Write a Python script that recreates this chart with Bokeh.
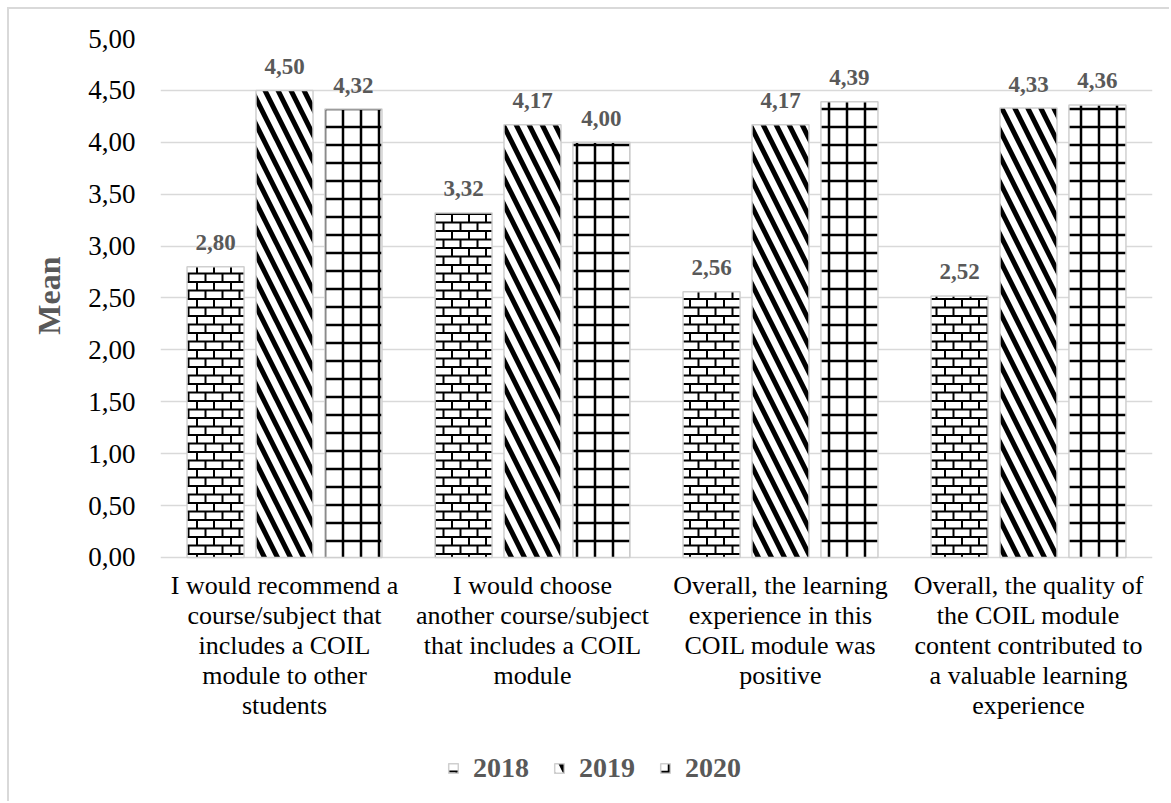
from bokeh.plotting import figure
from bokeh.models import (ColumnDataSource, FixedTicker, Legend, LegendItem, Range1d,
                          CanvasTexture, Title)
from bokeh.embed import file_html
from bokeh.resources import INLINE
from bokeh.core.properties import value

categories = [
    "I would recommend a\ncourse/subject that\nincludes a COIL\nmodule to other\nstudents",
    "I would choose\nanother course/subject\nthat includes a COIL\nmodule",
    "Overall, the learning\nexperience in this\nCOIL module was\npositive",
    "Overall, the quality of\nthe COIL module\ncontent contributed to\na valuable learning\nexperience",
]
years = ["2018", "2019", "2020"]
v2018 = [2.80, 3.32, 2.56, 2.52]
v2019 = [4.50, 4.17, 4.17, 4.33]
v2020 = [4.32, 4.00, 4.39, 4.36]
yticks = [0, 0.5, 1, 1.5, 2, 2.5, 3, 3.5, 4, 4.5, 5]

series = [v2018, v2019, v2020]
offsets = [-0.278, 0.0, 0.278]
bar_w = 0.23
FONT = "Liberation Serif"
GRAY = "#595959"

BRICK_CODE = """
const c = ctx.canvas;
c.width = 17; c.height = 17;
ctx.clearRect(0, 0, 17, 17);
ctx.strokeStyle = "#000000";
ctx.lineWidth = 2;
ctx.beginPath();
ctx.moveTo(0, 1); ctx.lineTo(17, 1);
ctx.moveTo(0, 9.5); ctx.lineTo(17, 9.5);
ctx.moveTo(1, 0); ctx.lineTo(1, 9.5);
ctx.moveTo(9.5, 9.5); ctx.lineTo(9.5, 17);
ctx.stroke();
"""

styles = [
    dict(hatch_pattern="hp", hatch_scale=17, hatch_weight=2),
    dict(hatch_pattern="left_diagonal_line", hatch_scale=26, hatch_weight=5),
    dict(hatch_pattern="cross", hatch_scale=18, hatch_weight=2.5),
]

# frame: top at y=38 (value 5), value 0 at y=557, frame bottom at window bottom
p = figure(width=1162, height=794, output_backend="svg", toolbar_location=None,
           x_range=Range1d(0, 4), y_range=Range1d(-2.37, 5),
           min_border_left=151, min_border_right=19, min_border_top=29,
           min_border_bottom=0, margin=(7, 0, 0, 7))
p.styles = {"border-left": "2px solid #d9d9d9", "border-top": "2px solid #d9d9d9"}
p.outline_line_color = None
p.background_fill_color = "white"

srcs = []
for vals, off in zip(series, offsets):
    srcs.append(ColumnDataSource(dict(
        x=[i + 0.5 + off for i in range(len(vals))],
        top=vals,
        lab=[f"{v:.2f}".replace(".", ",") for v in vals],
        hp=["brick"] * len(vals),
    )))

common = dict(width=bar_w, bottom=0, fill_color="white", line_color="#cfcfcf",
              line_width=1.5, hatch_color="black")
renderers = []
for s, st in zip(srcs, styles):
    r = p.vbar(x="x", top="top", source=s,
               hatch_extra={"brick": CanvasTexture(code=BRICK_CODE)}, **st, **common)
    renderers.append(r)

for s in srcs:
    p.text(x="x", y="top", text="lab", source=s, text_align="center",
           text_baseline="alphabetic", y_offset=-24, text_font=value(FONT),
           text_font_style="bold", text_font_size="23px", text_color=GRAY)

# category labels under the axis
cat_src = ColumnDataSource(dict(x=[i + 0.5 for i in range(len(categories))],
                                y=[0] * len(categories), t=categories))
p.text(x="x", y="y", text="t", source=cat_src, text_align="center", text_baseline="top",
       y_offset=14, text_font=value(FONT), text_font_size="26px", text_color="black",
       text_line_height=1.03)

p.xaxis.visible = False
p.xgrid.grid_line_color = None
p.ygrid.ticker = FixedTicker(ticks=yticks)
p.ygrid.grid_line_color = "#d9d9d9"
p.ygrid.grid_line_width = 1.5
p.yaxis.ticker = FixedTicker(ticks=yticks)
p.yaxis.major_label_overrides = {t: f"{t:.2f}".replace(".", ",") for t in yticks}
p.yaxis.major_label_text_font = FONT
p.yaxis.major_label_text_font_size = "27px"
p.yaxis.major_label_text_color = "black"
p.yaxis.axis_line_color = None
p.yaxis.major_tick_line_color = None
p.yaxis.minor_tick_line_color = None
p.yaxis.major_tick_out = 0
p.yaxis.major_label_standoff = 25

ttl = Title(text="Mean", align="right", offset=218, standoff=34, vertical_align="top",
            text_font=FONT, text_font_style="bold", text_font_size="32px",
            text_color=GRAY)
p.add_layout(ttl, "left")

legend = Legend(items=[LegendItem(label=y, renderers=[r]) for y, r in zip(years, renderers)],
                orientation="horizontal", location=(287, 19),
                label_text_font=FONT, label_text_font_style="bold",
                label_text_font_size="28px", label_text_color=GRAY,
                glyph_width=12, glyph_height=12, spacing=24, label_standoff=14,
                padding=0, margin=0,
                border_line_color=None, background_fill_alpha=0)
p.add_layout(legend, "center")

open("out.html", "w").write(file_html(p, INLINE))
